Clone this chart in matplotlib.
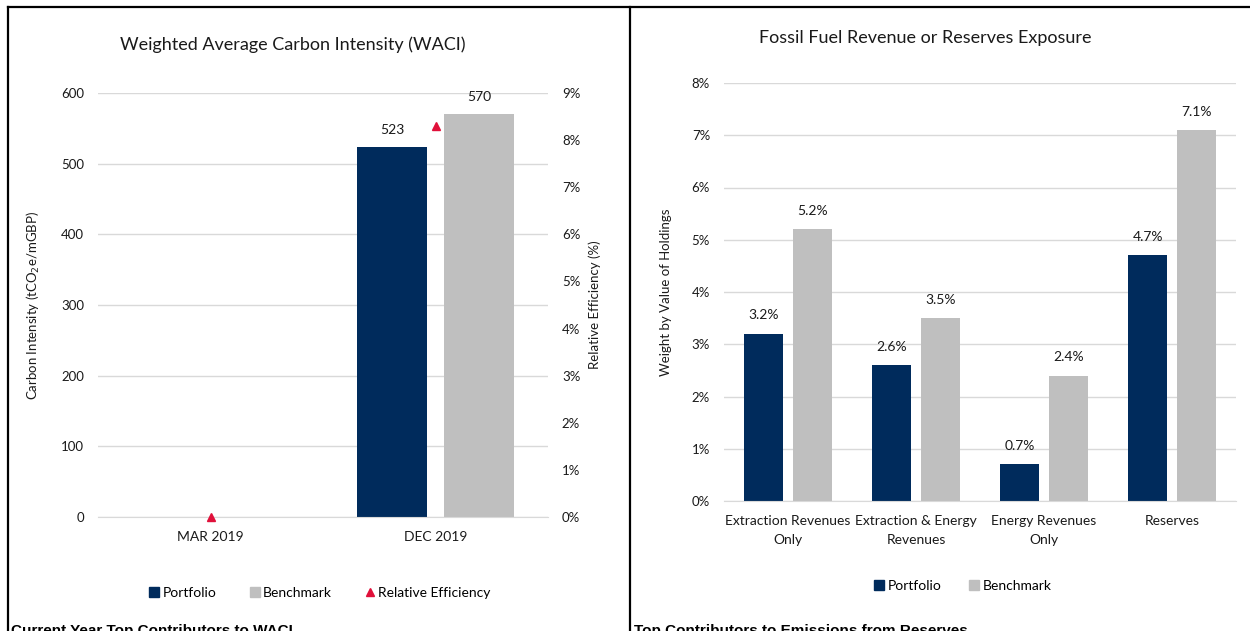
import numpy as np
import matplotlib
matplotlib.use('Agg')
import matplotlib.pyplot as plt
from matplotlib.lines import Line2D

plt.rcParams['font.family'] = ['Lato', 'DejaVu Sans']

# waci panel data
waci_periods = ['MAR 2019', 'DEC 2019']
waci_portfolio = [np.nan, 523]
waci_benchmark = [np.nan, 570]
rel_efficiency = [0.0, 8.3]  # percent

# fossil fuel panel data
ff_categories = ['Extraction Revenues\nOnly', 'Extraction & Energy\nRevenues',
                 'Energy Revenues\nOnly', 'Reserves']
ff_portfolio = [3.2, 2.6, 0.7, 4.7]
ff_benchmark = [5.2, 3.5, 2.4, 7.1]

NAVY = '#002B5C'
GREY = '#BFBFBF'
RED = '#E0103A'
GRID = '#D9D9D9'
TXT = '#1a1a1a'

W, H = 1250, 631
fig = plt.figure(figsize=(W / 100, H / 100), dpi=100)


def px_box(x0, y0, x1, y1):
    # pixel box (top-left origin) -> figure fraction rect
    return [x0 / W, 1 - y1 / H, (x1 - x0) / W, (y1 - y0) / H]


def style_axes(ax):
    for s in ['top', 'right', 'left']:
        ax.spines[s].set_visible(False)
    ax.spines['bottom'].set_color(GRID)
    ax.grid(axis='y', color=GRID, lw=1)
    ax.set_axisbelow(True)
    ax.tick_params(length=0, labelsize=9.5, colors=TXT)
    ax.tick_params(axis='y', pad=10)
    ax.tick_params(axis='x', pad=10, labelsize=10)


# ---- left panel: WACI ----
ax1 = fig.add_axes(px_box(98, 93, 548, 517))
x = np.arange(len(waci_periods))
bw, off = 0.31, 0.193
b1 = ax1.bar(x - off, waci_portfolio, bw, color=NAVY, label='Portfolio')
b2 = ax1.bar(x + off, waci_benchmark, bw, color=GREY, label='Benchmark')
for bars, vals in [(b1, waci_portfolio), (b2, waci_benchmark)]:
    for rect, v in zip(bars, vals):
        if not np.isnan(v):
            ax1.annotate(f'{v:.0f}', (rect.get_x() + rect.get_width() / 2, v),
                         xytext=(0, 8), textcoords='offset points',
                         ha='center', va='bottom', fontsize=10, color=TXT)
ax1.set_xlim(-0.5, 1.5)
ax1.set_ylim(0, 600)
ax1.set_yticks(range(0, 601, 100))
ax1.set_xticks(x, waci_periods)
style_axes(ax1)
ax1.set_ylabel(r'Carbon Intensity (tCO$_2$e/mGBP)', fontsize=9.5, color=TXT, labelpad=14)

ax1r = ax1.twinx()
ax1r.plot(x, rel_efficiency, ls='none', marker='^', ms=6, color=RED,
          label='Relative Efficiency', clip_on=False, zorder=5)
ax1r.set_ylim(0, 9)
ax1r.set_yticks(range(0, 10))
ax1r.set_yticklabels([f'{v}%' for v in range(0, 10)])
for s in ax1r.spines.values():
    s.set_visible(False)
ax1r.tick_params(length=0, labelsize=9.5, colors=TXT, pad=10)
ax1r.set_ylabel('Relative Efficiency (%)', fontsize=9.5, color=TXT, labelpad=6)

fig.text(293 / W, 1 - 45 / H, 'Weighted Average Carbon Intensity (WACI)',
         ha='center', va='center', fontsize=13, color=TXT)

h1 = [Line2D([], [], ls='none', marker='s', ms=7, color=NAVY),
      Line2D([], [], ls='none', marker='s', ms=7, color=GREY),
      Line2D([], [], ls='none', marker='^', ms=6, color=RED)]
fig.legend(h1, ['Portfolio', 'Benchmark', 'Relative Efficiency'],
           loc='center', bbox_to_anchor=(320 / W, 1 - 593 / H), ncol=3,
           frameon=False, fontsize=10, handletextpad=0.25, columnspacing=2.4,
           handlelength=0.7)

# ---- right panel: fossil fuel exposure ----
ax2 = fig.add_axes(px_box(724, 83, 1236, 501))
x2 = np.arange(len(ff_categories))
bw2, off2 = 0.305, 0.19
c1 = ax2.bar(x2 - off2, ff_portfolio, bw2, color=NAVY)
c2 = ax2.bar(x2 + off2, ff_benchmark, bw2, color=GREY)
for bars, vals in [(c1, ff_portfolio), (c2, ff_benchmark)]:
    for rect, v in zip(bars, vals):
        ax2.annotate(f'{v:.1f}%', (rect.get_x() + rect.get_width() / 2, v),
                     xytext=(0, 9), textcoords='offset points',
                     ha='center', va='bottom', fontsize=10, color=TXT)
ax2.set_xlim(-0.5, 3.5)
ax2.set_ylim(0, 8)
ax2.set_yticks(range(0, 9))
ax2.set_yticklabels([f'{v}%' for v in range(0, 9)])
ax2.set_xticks(x2, ff_categories)
style_axes(ax2)
for lbl in ax2.get_xticklabels():
    lbl.set_linespacing(1.75)
ax2.set_ylabel('Weight by Value of Holdings', fontsize=9.5, color=TXT, labelpad=14)

fig.text(925 / W, 1 - 38 / H, 'Fossil Fuel Revenue or Reserves Exposure',
         ha='center', va='center', fontsize=13, color=TXT)

h2 = [Line2D([], [], ls='none', marker='s', ms=7, color=NAVY),
      Line2D([], [], ls='none', marker='s', ms=7, color=GREY)]
fig.legend(h2, ['Portfolio', 'Benchmark'], loc='center',
           bbox_to_anchor=(963 / W, 1 - 586 / H), ncol=2, frameon=False,
           fontsize=10, handletextpad=0.25, columnspacing=2.0, handlelength=0.7)

# ---- page frame and next section headings ----
frame = dict(color='black', lw=1.6, transform=fig.transFigure)
fig.add_artist(Line2D([8 / W, 1], [1 - 7 / H, 1 - 7 / H], **frame))
fig.add_artist(Line2D([8 / W, 8 / W], [0, 1 - 7 / H], **frame))
fig.add_artist(Line2D([630 / W, 630 / W], [0, 1 - 7 / H], **frame))

fig.text(11 / W, 1 - 624 / H, 'Current Year Top Contributors to WACI',
         ha='left', va='top', fontsize=11, fontweight='bold',
         family='Liberation Sans', color='black')
fig.text(634 / W, 1 - 624 / H, 'Top Contributors to Emissions from Reserves',
         ha='left', va='top', fontsize=11, fontweight='bold',
         family='Liberation Sans', color='black')

fig.savefig('out.png', dpi=100, facecolor='white')
